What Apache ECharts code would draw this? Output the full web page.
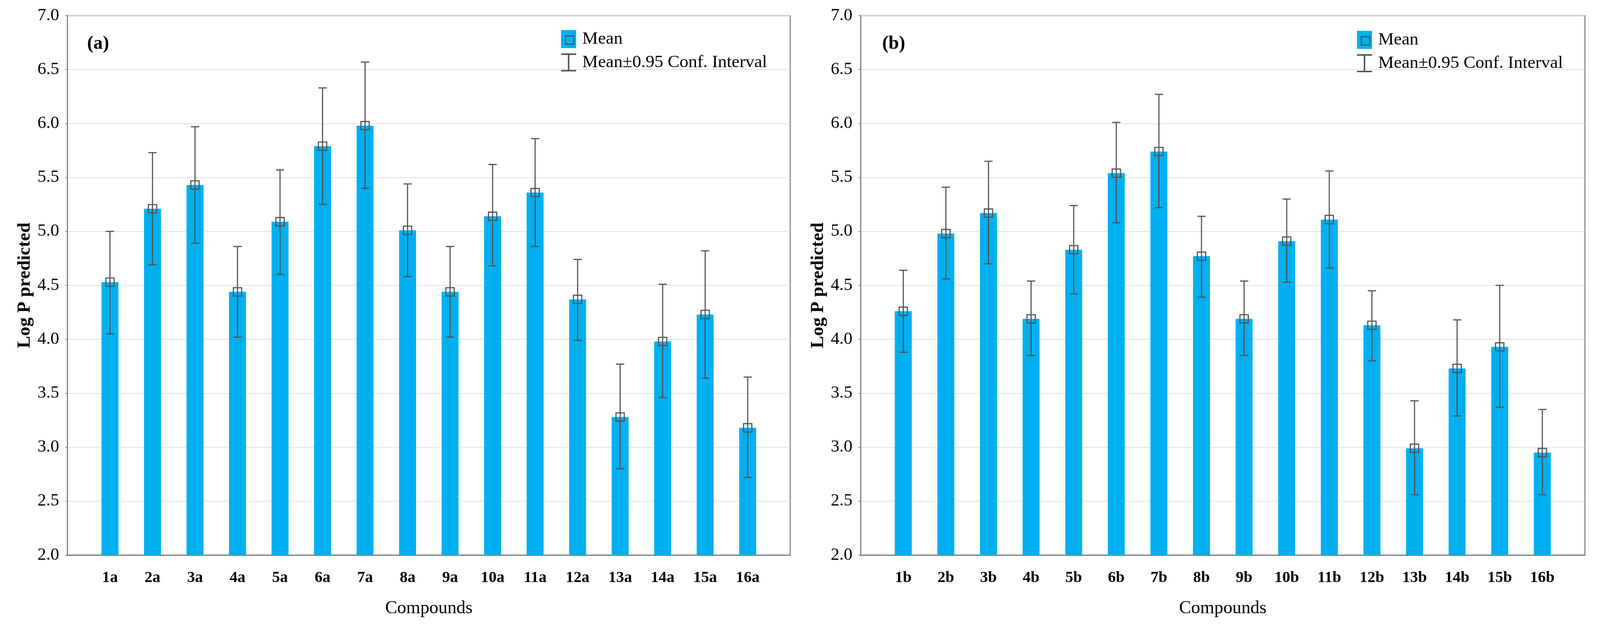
<!DOCTYPE html>
<html>
<head>
<meta charset="utf-8">
<script src="https://cdn.jsdelivr.net/npm/echarts@6/dist/echarts.min.js"></script>
<style>
html,body{margin:0;padding:0;background:#fff;overflow:hidden;}
#chart{width:100vw;height:100vh;}
</style>
</head>
<body>
<div id="chart"></div>
<script>
// ---- data ----
const catsA = ['1a','2a','3a','4a','5a','6a','7a','8a','9a','10a','11a','12a','13a','14a','15a','16a'];
const meanA = [4.53, 5.21, 5.43, 4.44, 5.09, 5.79, 5.98, 5.01, 4.44, 5.14, 5.36, 4.37, 3.28, 3.98, 4.23, 3.18];
const lowA  = [4.05, 4.69, 4.89, 4.02, 4.60, 5.25, 5.40, 4.58, 4.02, 4.68, 4.86, 3.99, 2.80, 3.46, 3.64, 2.72];
const highA = [5.00, 5.73, 5.97, 4.86, 5.57, 6.33, 6.57, 5.44, 4.86, 5.62, 5.86, 4.74, 3.77, 4.51, 4.82, 3.65];

const catsB = ['1b','2b','3b','4b','5b','6b','7b','8b','9b','10b','11b','12b','13b','14b','15b','16b'];
const meanB = [4.26, 4.98, 5.17, 4.19, 4.83, 5.54, 5.74, 4.77, 4.19, 4.91, 5.11, 4.13, 2.99, 3.73, 3.93, 2.95];
const lowB  = [3.88, 4.56, 4.70, 3.85, 4.42, 5.08, 5.22, 4.39, 3.85, 4.53, 4.66, 3.80, 2.56, 3.29, 3.37, 2.56];
const highB = [4.64, 5.41, 5.65, 4.54, 5.24, 6.01, 6.27, 5.14, 4.54, 5.30, 5.56, 4.45, 3.43, 4.18, 4.50, 3.35];

const yTicks = {min: 2.0, max: 7.0, interval: 0.5};
const panelLabels = ['(a)', '(b)'];
const xTitle = 'Compounds';
const yTitle = 'Log P predicted';
const meanName = 'Mean';
const ciName = 'Mean\u00b10.95 Conf. Interval';

// ---- style / layout (designed for 4246 x 1619, scaled to the actual viewport) ----
const FONT = 'Liberation Serif';
const BLUE = '#00B0F0';
const DARK = '#535353';
const AXIS = '#858585';

const el = document.getElementById('chart');
const W = el.clientWidth || window.innerWidth, H = el.clientHeight || window.innerHeight;
const fx = W / 4246, fy = H / 1619, f = Math.min(fx, fy);
const px = v => v * fx, py = v => v * fy, fs = v => v * f;

const chart = echarts.init(el);

const grids = [
  {left: px(179), top: py(40), width: px(1918), height: py(1382)},
  {left: px(2284), top: py(40), width: px(1922), height: py(1382)}
];

function xAxisFor(cats, gi) {
  const data = [''].concat(cats, ['']);
  return {
    type: 'category', gridIndex: gi, data: data, boundaryGap: false,
    axisLine: {show: true, lineStyle: {color: AXIS, width: fs(3)}},
    axisTick: {show: true, inside: true, length: fs(7), lineStyle: {color: AXIS, width: fs(2)},
      interval: function (idx, val) { return val !== ''; }},
    axisLabel: {interval: 0, margin: py(38), fontFamily: FONT, fontWeight: 'bold', fontSize: fs(42), color: '#000'},
    splitLine: {show: false},
    name: xTitle, nameLocation: 'middle', nameGap: py(114),
    nameTextStyle: {fontFamily: FONT, fontSize: fs(48), color: '#000'}
  };
}
function yAxisFor(gi) {
  return {
    type: 'value', gridIndex: gi, min: yTicks.min, max: yTicks.max, interval: yTicks.interval,
    axisLine: {show: true, lineStyle: {color: AXIS, width: fs(3)}},
    axisTick: {show: true, length: fs(6), lineStyle: {color: AXIS, width: fs(2)}},
    axisLabel: {margin: px(22), fontFamily: FONT, fontSize: fs(46), color: '#000',
      formatter: function (v) { return v.toFixed(1); }},
    splitLine: {show: true, lineStyle: {color: '#e2e2e2', width: fs(2)}},
    name: yTitle, nameLocation: 'middle', nameRotate: 90, nameGap: px(88),
    nameTextStyle: {fontFamily: FONT, fontWeight: 'bold', fontSize: fs(49), color: '#000'}
  };
}

function renderCI(params, api) {
  const x = api.value(0);
  const lo = api.coord([x, api.value(1)]);
  const hi = api.coord([x, api.value(2)]);
  const md = api.coord([x, api.value(3)]);
  const cap = fs(11), sq = fs(11);
  const st = {stroke: DARK, lineWidth: fs(3), fill: null};
  return {
    type: 'group',
    children: [
      {type: 'line', shape: {x1: lo[0], y1: lo[1], x2: hi[0], y2: hi[1]}, style: st},
      {type: 'line', shape: {x1: hi[0] - cap, y1: hi[1], x2: hi[0] + cap, y2: hi[1]}, style: st},
      {type: 'line', shape: {x1: lo[0] - cap, y1: lo[1], x2: lo[0] + cap, y2: lo[1]}, style: st},
      {type: 'rect', shape: {x: md[0] - sq, y: md[1] - sq, width: 2 * sq, height: 2 * sq}, style: st}
    ]
  };
}

function seriesFor(mean, low, high, gi) {
  return [
    {
      name: meanName, type: 'bar', xAxisIndex: gi, yAxisIndex: gi, barWidth: px(45),
      itemStyle: {color: BLUE},
      data: mean.map(function (v, i) { return [i + 1, v]; }),
      z: 2
    },
    {
      name: ciName, type: 'custom', xAxisIndex: gi, yAxisIndex: gi,
      itemStyle: {color: DARK},
      renderItem: renderCI,
      data: mean.map(function (m, i) { return [i + 1, low[i], high[i], m]; }),
      z: 5
    }
  ];
}

const ciIcon = 'path://M0,0h40v4h-40z M18,4h4v40h-4z M0,44h40v4h-40z';
function legendFor(left, top) {
  return {
    left: px(left), top: py(top), orient: 'vertical', padding: 0,
    itemWidth: fs(40), itemHeight: fs(48), itemGap: fs(14),
    selectedMode: false,
    data: [{name: meanName, icon: 'rect'}, {name: ciName, icon: ciIcon}],
    textStyle: {fontFamily: FONT, fontSize: fs(47), color: '#000', lineHeight: fs(48), padding: [0, 0, 0, fs(11)]}
  };
}
const legendPos = [[1489, 77], [3601, 79]];

const option = {
  backgroundColor: '#fff',
  animation: false,
  title: [
    {text: panelLabels[0], left: px(226), top: py(84), textStyle: {fontFamily: FONT, fontWeight: 'bold', fontSize: fs(50), color: '#000'}},
    {text: panelLabels[1], left: px(2336), top: py(84), textStyle: {fontFamily: FONT, fontWeight: 'bold', fontSize: fs(50), color: '#000'}}
  ],
  grid: grids.map(function (g) {
    return Object.assign({show: true, borderColor: AXIS, borderWidth: fs(3), backgroundColor: 'transparent'}, g);
  }),
  xAxis: [xAxisFor(catsA, 0), xAxisFor(catsB, 1)],
  yAxis: [yAxisFor(0), yAxisFor(1)],
  legend: [legendFor(legendPos[0][0], legendPos[0][1]), legendFor(legendPos[1][0], legendPos[1][1])],
  graphic: legendPos.map(function (p) {
    return {type: 'rect', left: px(p[0]) + fs(9), top: py(p[1]) + fs(13), z: 100,
      shape: {width: fs(22), height: fs(22)}, style: {fill: null, stroke: DARK, lineWidth: fs(3)}};
  }),
  series: seriesFor(meanA, lowA, highA, 0).concat(seriesFor(meanB, lowB, highB, 1))
};
chart.setOption(option);
</script>
</body>
</html>
